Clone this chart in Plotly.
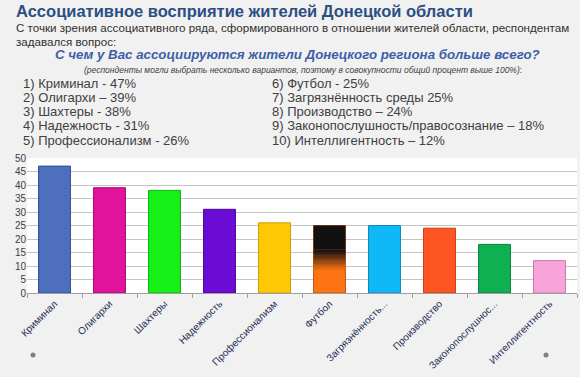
import plotly.graph_objects as go

categories = ["Криминал", "Олигархи", "Шахтеры", "Надежность", "Профессионализм",
              "Футбол", "Загрязнённость...", "Производство", "Законопослушнос...", "Интеллигентность"]
values = [47, 39, 38, 31, 26, 25, 25, 24, 18, 12]
colors = ["#4d6fbd", "#e2139c", "#16f016", "#6a0cd6", "#ffc804",
          "#ff7412", "#0fb9f7", "#ff5522", "#0db152", "#f8a3d9"]
lines = ["#2f4d90", "#a80a72", "#0cb40c", "#4a0898", "#d09a00",
         "#c85008", "#0a88b8", "#c83a10", "#08803a", "#c878a8"]
list_left = ["1) Криминал - 47%", "2) Олигархи – 39%", "3) Шахтеры - 38%",
             "4) Надежность - 31%", "5) Профессионализм - 26%"]
list_right = ["6) Футбол - 25%", "7) Загрязнённость среды 25%", "8) Производство – 24%",
              "9) Законопослушность/правосознание – 18%", "10) Интеллигентность – 12%"]
yticks = [0, 5, 10, 15, 20, 25, 30, 35, 40, 45, 50]

W, H = 580, 377
L, R, T, B = 27, 3, 158, 84
pw, ph = W - L - R, H - T - B

def px(x):
    return (x - L) / pw

def py(y):
    return (H - B - y) / ph

fig = go.Figure()
fig.add_trace(go.Bar(x=categories, y=values, marker=dict(color=colors, line=dict(color=lines, width=1)),
                     width=0.58, hoverinfo="x+y"))

# gradient overlay for "Футбол" (black top fading to orange)
fi = categories.index("Футбол")
fv = values[fi]
n = 12
lo, hi = 0.34, 0.64
def mix(t):
    a = (0x11, 0x11, 0x11)
    b = (0xff, 0x74, 0x12)
    return "rgb(%d,%d,%d)" % tuple(int(a[k] * t + b[k] * (1 - t)) for k in range(3))
fig.add_trace(go.Bar(x=[categories[fi]], y=[fv * (1 - hi)], base=[fv * hi], width=0.58,
                     marker=dict(color="#111111", line=dict(width=0)), hoverinfo="skip"))
for i in range(n):
    f0 = lo + (hi - lo) * i / n
    f1 = lo + (hi - lo) * (i + 1) / n
    fig.add_trace(go.Bar(x=[categories[fi]], y=[fv * (f1 - f0) + 0.05], base=[fv * f0], width=0.58,
                         marker=dict(color=mix((i + 0.5) / n), line=dict(width=0)), hoverinfo="skip"))

fig.update_layout(
    width=W, height=H, margin=dict(l=L, r=R, t=T, b=B, autoexpand=False),
    barmode="overlay", showlegend=False,
    paper_bgcolor="#f1f1f1", plot_bgcolor="#ffffff",
    font=dict(family="Liberation Sans, Arial, sans-serif", color="#404040"),
    xaxis=dict(tickangle=-45, tickson="boundaries", ticks="outside", ticklen=4, tickcolor="#a0a0a0",
               showline=True, linecolor="#a0a0a0", showgrid=False, automargin=False,
               tickfont=dict(size=10, color="#1e2f55")),
    yaxis=dict(range=[0, 50], tickvals=yticks, showgrid=True, gridcolor="#c4c4c4", gridwidth=1,
               zeroline=False, tickfont=dict(size=10, color="#404040"), ticks="", fixedrange=True,
               automargin=False),
)

ann = []
ann.append(dict(text="<b>Ассоциативное восприятие жителей Донецкой области</b>", x=px(14), y=py(11),
                xanchor="left", yanchor="middle", font=dict(size=16.5, color="#2b4f84")))
ann.append(dict(text="С точки зрения ассоциативного ряда, сформированного в отношении жителей области, респондентам",
                x=px(14), y=py(27), xanchor="left", yanchor="middle", font=dict(size=11.6, color="#303030")))
ann.append(dict(text="задавался вопрос:", x=px(14), y=py(41), xanchor="left", yanchor="middle",
                font=dict(size=11.6, color="#303030")))
ann.append(dict(text="<b><i>С чем у Вас ассоциируются жители Донецкого региона больше всего?</i></b>",
                x=px(297), y=py(55), xanchor="center", yanchor="middle", font=dict(size=13.3, color="#3c5ea8")))
ann.append(dict(text="<i>(респонденты могли выбрать несколько вариантов, поэтому в совокупности общий процент выше 100%)</i>:",
                x=px(303), y=py(70), xanchor="center", yanchor="middle", font=dict(size=8.5, color="#404040")))
for i, t in enumerate(list_left):
    ann.append(dict(text=t, x=px(21), y=py(83 + i * 14.3), xanchor="left", yanchor="middle",
                    font=dict(size=13, color="#404040")))
for i, t in enumerate(list_right):
    ann.append(dict(text=t, x=px(270), y=py(83 + i * 14.3), xanchor="left", yanchor="middle",
                    font=dict(size=13, color="#404040")))
for a in ann:
    a.update(xref="paper", yref="paper", showarrow=False)
fig.update_layout(annotations=ann)

for cx in (33, 546):
    fig.add_shape(type="circle", xref="paper", yref="paper", x0=px(cx - 2.5), x1=px(cx + 2.5),
                  y0=py(355 + 2.5), y1=py(355 - 2.5), fillcolor="#808080", line=dict(width=0))

fig.write_html("out.html", config={"displayModeBar": False},
               post_script="document.body.style.margin='0';document.body.style.background='#f1f1f1';")
